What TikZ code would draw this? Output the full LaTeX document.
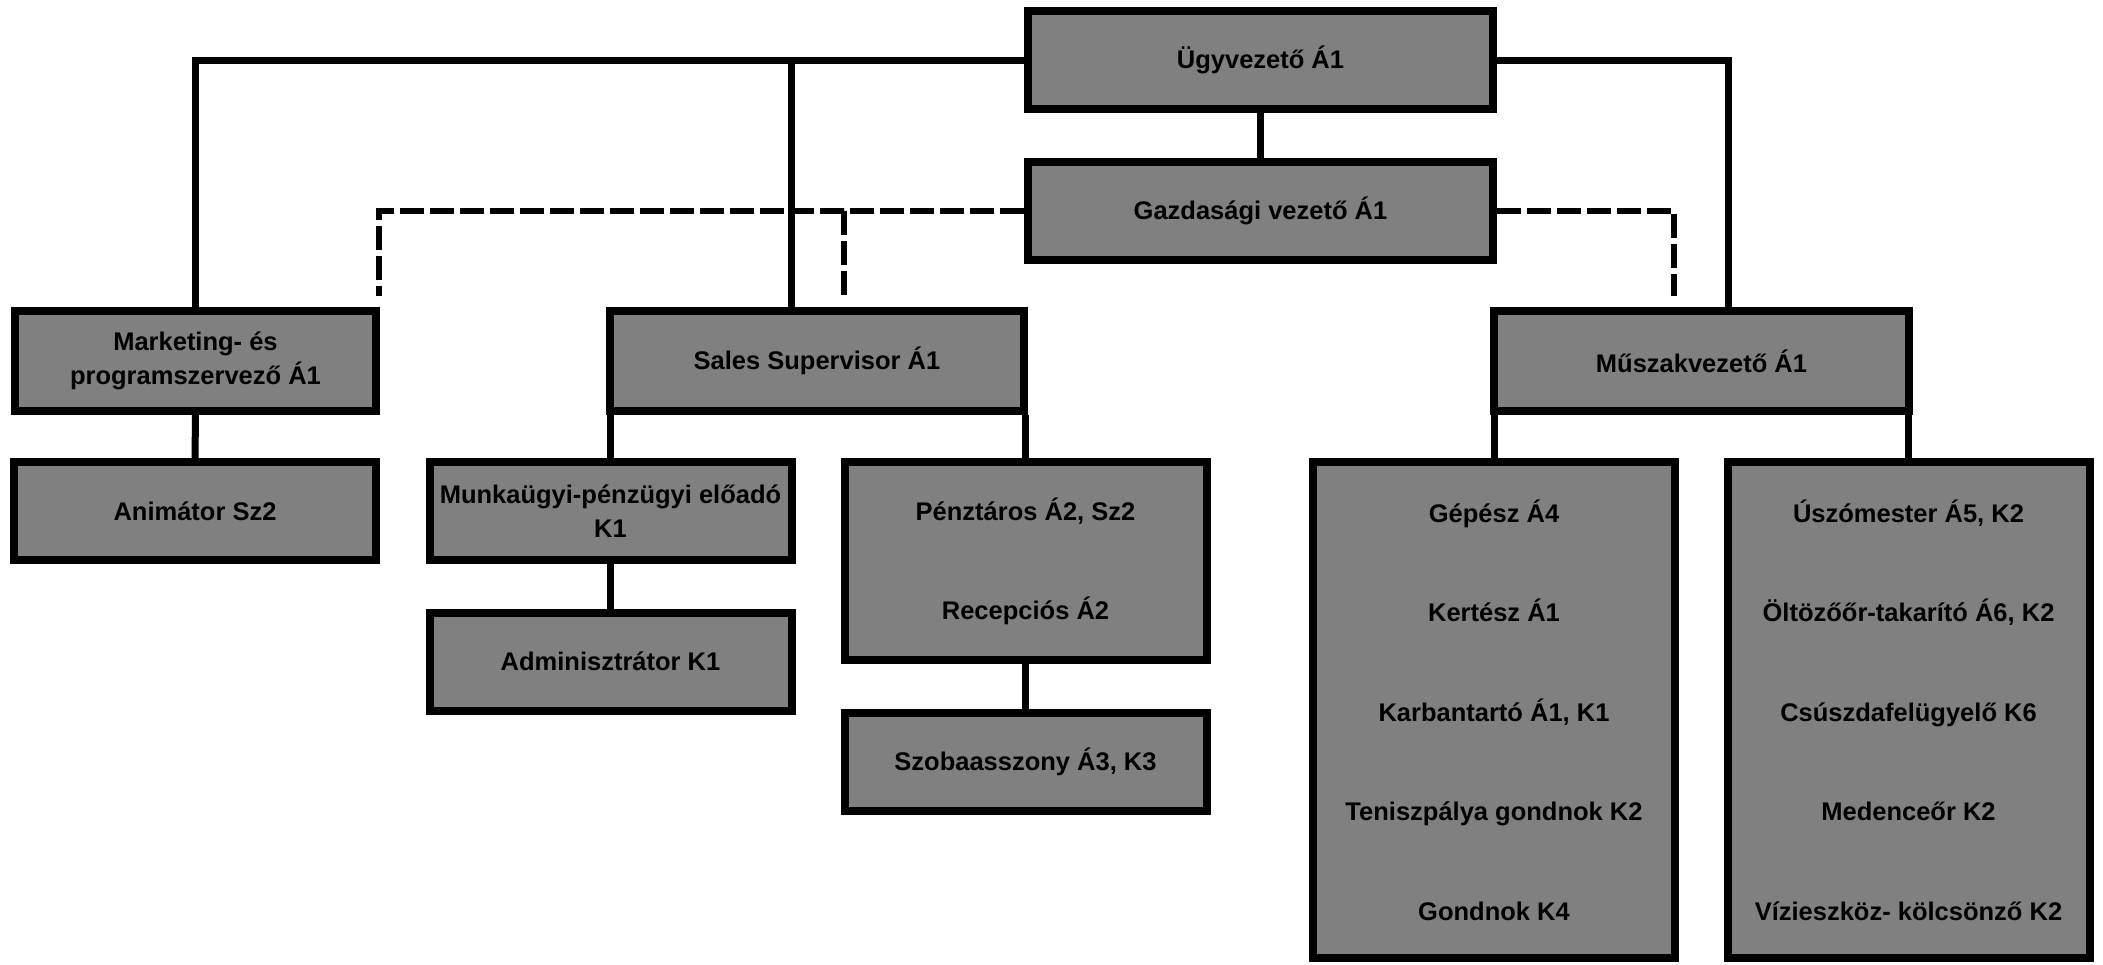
\documentclass[tikz,border=0pt]{standalone}
\usepackage{fontspec}
\setmainfont{Liberation Sans}
\usepackage{tikz}
\usetikzlibrary{positioning}

\begin{document}
\begin{tikzpicture}[x=1pt, y=-1pt,
  unit/.style={rectangle, draw=black, line width=8pt, fill=black!50, inner sep=0pt,
    minimum width=362pt, minimum height=98pt, align=center,
    font=\bfseries\fontsize{25.5}{34}\selectfont},
  tall/.style={unit, minimum height=496pt, font=\bfseries\fontsize{25.5}{99.5}\selectfont},
  link/.style={line width=7pt},
  staff/.style={line width=6pt, dash pattern=on 24pt off 6pt}
]
\useasboundingbox (0,0) rectangle (2103,964);

% Management
\node[unit, minimum width=465pt] (ugy)  at (1260.5,60)  {Ügyvezető Á1};
\node[unit, minimum width=465pt] (gazd) at (1260.5,211) {Gazdasági vezető Á1};

% Second level
\node[unit, minimum width=361pt, minimum height=100pt] (mark)  at (195.5,361)  {Marketing- és\\programszervező Á1};
\node[unit, minimum width=414pt, minimum height=100pt] (sales) at (817,361)    {Sales Supervisor Á1};
\node[unit, minimum width=415pt, minimum height=100pt] (musz)  at (1701.5,361) {Műszakvezető Á1};

% Staff
\node[unit] (anim)  at (195,511)     {Animátor Sz2};
\node[unit] (munk)  at (610.5,511)   {Munkaügyi-pénzügyi előadó\\K1};
\node[unit] (admin) at (610.5,661.5) {Adminisztrátor K1};
\node[unit, minimum height=198pt, font=\bfseries\fontsize{25.5}{99}\selectfont] (penz) at (1025.5,561) {Pénztáros Á2, Sz2\\Recepciós Á2};
\node[unit] (szoba) at (1025.5,762) {Szobaasszony Á3, K3};
\node[tall] (gep) at (1494,710)   {Gépész Á4\\Kertész Á1\\Karbantartó Á1, K1\\Teniszpálya gondnok K2\\Gondnok K4};
\node[tall] (usz) at (1908.5,710) {Úszómester Á5, K2\\Öltözőőr-takarító Á6, K2\\Csúszdafelügyelő K6\\Medenceőr K2\\Vízieszköz- kölcsönző K2};

% Line connections
\draw[link] (ugy.west) -| (mark.north);
\draw[link] (ugy.west) -| ([xshift=-26pt]sales.north);
\draw[link] (ugy.east) -| ([xshift=26.5pt]musz.north);
\draw[link] (ugy) -- (gazd);

% Staff connections
\draw[staff] (gazd.west) -| ([xshift=-1pt,yshift=11pt]mark.north east);
\draw[staff] (gazd.west) -| ([xshift=27pt,yshift=11pt]sales.north);
\draw[staff] (gazd.east) -| ([xshift=-27.5pt,yshift=11pt]musz.north);

% Lower levels
\draw[link] (mark) -- (anim);
\draw[link] (munk.north) -- (munk.north |- sales.south);
\draw[link] (penz.north) -- (penz.north |- sales.south);
\draw[link] (munk) -- (admin);
\draw[link] (penz) -- (szoba);
\draw[link] (gep.north) -- (gep.north |- musz.south);
\draw[link] (usz.north) -- (usz.north |- musz.south);

\end{tikzpicture}
\end{document}
